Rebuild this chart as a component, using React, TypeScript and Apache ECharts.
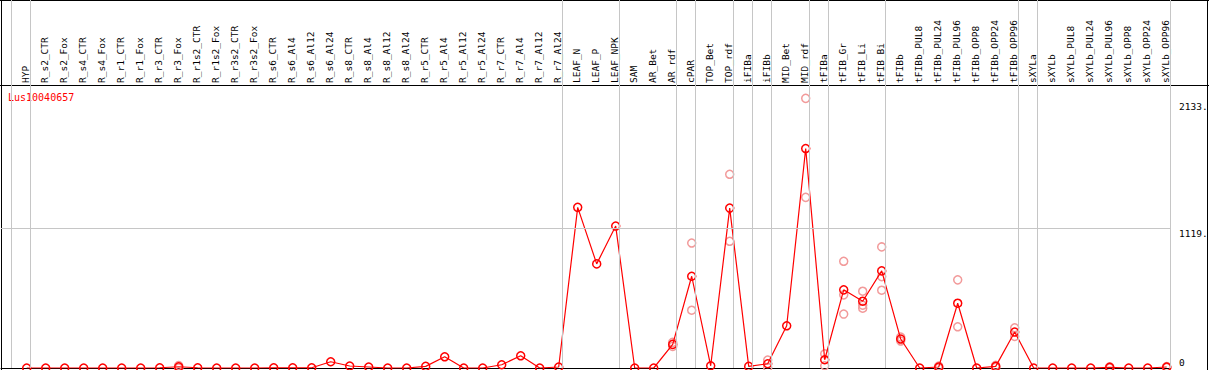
import React, { useEffect, useRef } from "react";
import * as echarts from "echarts";

const geneId = "Lus10040657";

const categories = [
  "HYP",
  "R_s2_CTR", "R_s2_Fox", "R_s4_CTR", "R_s4_Fox", "R_r1_CTR", "R_r1_Fox",
  "R_r3_CTR", "R_r3_Fox", "R_r1s2_CTR", "R_r1s2_Fox", "R_r3s2_CTR", "R_r3s2_Fox",
  "R_s6_CTR", "R_s6_Al4", "R_s6_Al12", "R_s6_Al24",
  "R_s8_CTR", "R_s8_Al4", "R_s8_Al12", "R_s8_Al24",
  "R_r5_CTR", "R_r5_Al4", "R_r5_Al12", "R_r5_Al24",
  "R_r7_CTR", "R_r7_Al4", "R_r7_Al12", "R_r7_Al24",
  "LEAF_N", "LEAF_P", "LEAF_NPK",
  "SAM", "AR_Bet", "AR_rdf",
  "cPAR", "TOP_Bet", "TOP_rdf",
  "iFIBa", "iFIBb",
  "MID_Bet", "MID_rdf",
  "tFIBa", "tFIB_Gr", "tFIB_Li", "tFIB_Bi",
  "tFIBb", "tFIBb_PUL8", "tFIBb_PUL24", "tFIBb_PUL96", "tFIBb_OPP8", "tFIBb_OPP24", "tFIBb_OPP96",
  "sXYLa",
  "sXYLb", "sXYLb_PUL8", "sXYLb_PUL24", "sXYLb_PUL96", "sXYLb_OPP8", "sXYLb_OPP24", "sXYLb_OPP96",
];

const meanValues = [
  0,
  0, 0, 0, 0, 0, 0,
  2, 10, 2, 0, 0, 0,
  2, 2, 2, 50,
  16, 8, 0, 0,
  13, 90, 0, 0,
  26, 98, 0, 8,
  1287, 834, 1137,
  0, 0, 189,
  735, 18, 1281,
  13, 34,
  338, 1758,
  66, 626, 535, 778,
  232, 0, 8, 519, 0, 13, 288,
  0,
  0, 0, 0, 5, 0, 0, 8,
];

// replicate measurements: [category index, value]
const replicates: [number, number][] = [
  [8, 20], [8, 0],
  [34, 205], [34, 173],
  [35, 1001], [35, 463],
  [37, 1552], [37, 1015],
  [39, 64], [39, 4],
  [41, 2160], [41, 1367],
  [42, 114], [42, 18],
  [43, 855], [43, 586], [43, 432],
  [44, 615], [44, 503], [44, 479],
  [45, 970], [45, 732], [45, 623],
  [46, 248], [46, 216],
  [48, 16], [48, 0],
  [49, 706], [49, 330],
  [51, 21], [51, 5],
  [52, 322], [52, 253],
  [57, 10], [57, 0],
  [60, 12], [60, 4],
];

// index of the last category of each group (separator drawn right after it)
const groupEnds = [-1, 0, 28, 31, 34, 35, 37, 38, 39, 41, 42, 45, 52, 53, 60];

const yTickValues = [0, 1119, 2133];
const yTickLabels = ["0", "1119.", "2133."];
const yGridValues = [1119];

export default function App() {
  const ref = useRef<HTMLDivElement>(null);

  useEffect(() => {
    document.body.style.margin = "0";
    const chart = echarts.init(ref.current!, null, { renderer: "svg" });
    const MONO = "'DejaVu Sans Mono', monospace";
    const RED = "#ff0000";
    const PINK = "#f29a9a";
    const GRAY = "#c6c6c6";
    const step = 19;
    const firstX = 26.7;
    const plotLeft = 1;
    const plotRight = 1170.7;
    const xMin = (plotLeft - firstX) / step;
    const xMax = (plotRight - firstX) / step;
    const sepOffset = 0.19;

    chart.setOption({
      animation: false,
      grid: [
        { left: plotLeft, top: 0, width: plotRight - plotLeft, height: 368 },
        { left: firstX - step / 2 - 1, top: 85, width: step * categories.length, height: 1 },
      ],
      xAxis: [
        {
          type: "value",
          gridIndex: 0,
          min: xMin,
          max: xMax,
          axisLine: { show: true, onZero: false, lineStyle: { color: "#000", width: 1 } },
          axisTick: { show: false },
          axisLabel: { show: false },
          splitLine: { show: false },
        },
        {
          type: "category",
          gridIndex: 1,
          position: "top",
          data: categories,
          axisLine: { show: false },
          axisTick: { show: false },
          splitLine: { show: false },
          axisLabel: {
            interval: 0,
            rotate: 90,
            margin: 2,
            fontFamily: MONO,
            fontSize: 9.5,
            color: "#000",
          },
        },
      ],
      yAxis: [
        { type: "value", gridIndex: 0, min: 0, max: 2948, show: false },
        { type: "value", gridIndex: 1, show: false },
      ],
      series: [
        {
          type: "scatter",
          xAxisIndex: 0,
          yAxisIndex: 0,
          data: replicates,
          symbol: "circle",
          symbolSize: 8,
          itemStyle: { color: "rgba(255,255,255,0)", borderColor: PINK, borderWidth: 1.5, opacity: 1 },
          z: 2,
          silent: true,
          markLine: {
            silent: true,
            symbol: "none",
            label: { show: false },
            lineStyle: { color: GRAY, width: 1, type: "solid" },
            data: [
              ...groupEnds.map((g) => ({ xAxis: g + sepOffset })),
              ...yGridValues.map((v) => ({ yAxis: v })),
            ],
          },
        },
        {
          type: "line",
          xAxisIndex: 0,
          yAxisIndex: 0,
          data: meanValues.map((v, i) => [i, v]),
          symbol: "circle",
          symbolSize: 8,
          showSymbol: true,
          showAllSymbol: true,
          lineStyle: { color: RED, width: 1.2 },
          itemStyle: { color: "rgba(255,255,255,0)", borderColor: RED, borderWidth: 1.5 },
          z: 3,
          silent: true,
        },
      ],
    });

    const tickTexts = yTickValues.map((v, i) => {
      const py = chart.convertToPixel({ yAxisIndex: 0 }, v) as number;
      return {
        type: "text",
        x: 1179,
        y: v === 0 ? py - 1 : py,
        style: {
          text: yTickLabels[i],
          fontFamily: MONO,
          fontSize: 9.5,
          fill: "#000",
          align: "left",
          verticalAlign: v === 0 ? "bottom" : "top",
        },
      };
    });

    chart.setOption({
      graphic: [
        { type: "line", shape: { x1: 0, y1: 0.5, x2: 1209, y2: 0.5 }, style: { stroke: "#000", lineWidth: 1 } },
        { type: "line", shape: { x1: 0, y1: 85.5, x2: 1209, y2: 85.5 }, style: { stroke: "#000", lineWidth: 1 } },
        { type: "line", shape: { x1: 1.5, y1: 0, x2: 1.5, y2: 370 }, style: { stroke: "#000", lineWidth: 1 } },
        { type: "line", shape: { x1: 1207.5, y1: 0, x2: 1207.5, y2: 370 }, style: { stroke: "#000", lineWidth: 1 } },
        {
          type: "text",
          x: 8,
          y: 97,
          style: { text: geneId, fontFamily: MONO, fontSize: 10, fill: RED, verticalAlign: "middle" },
        },
        ...tickTexts,
      ],
    });

    return () => chart.dispose();
  }, []);

  return <div ref={ref} style={{ width: 1209, height: 370 }} />;
}
